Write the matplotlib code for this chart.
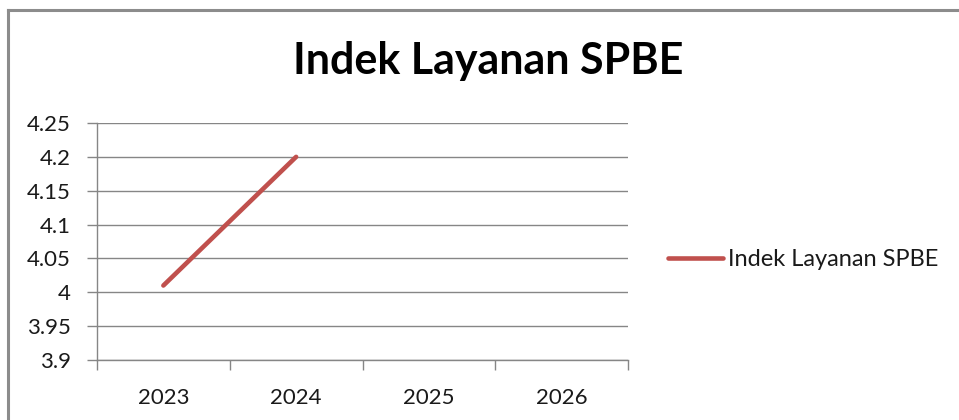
import numpy as np
import matplotlib.pyplot as plt
from matplotlib.lines import Line2D

plt.rcParams['font.family'] = ['Lato', 'DejaVu Sans']

years = ['2023', '2024', '2025', '2026']
indek = [4.01, 4.2]
y_ticks = [3.9, 3.95, 4.0, 4.05, 4.1, 4.15, 4.2, 4.25]
y_labels = ['3.9', '3.95', '4', '4.05', '4.1', '4.15', '4.2', '4.25']

W, H = 959, 420
fig = plt.figure(figsize=(W / 100, H / 100), dpi=100)

# plot area in pixel coords
x0, x1, ytop, ybot = 97, 628, 123, 360
ax = fig.add_axes([x0 / W, (H - ybot) / H, (x1 - x0) / W, (ybot - ytop) / H])

grid_c = '#868686'
txt_c = '#1a1a1a'
ax.plot(np.arange(len(indek)), indek, color='#C0504D', lw=3.3,
        solid_capstyle='round', label='Indek Layanan SPBE')

ax.set_xlim(-0.5, len(years) - 0.5)
ax.set_ylim(3.9, 4.25)
ax.set_yticks(y_ticks)
ax.set_yticklabels(y_labels)
ax.yaxis.grid(True, color=grid_c, lw=1)
ax.set_axisbelow(True)

ax.set_xticks(np.arange(len(years)))
ax.set_xticklabels(years)
ax.set_xticks(np.arange(len(years) + 1) - 0.5, minor=True)
ax.tick_params(axis='x', which='major', length=0, pad=20, labelsize=16, colors=txt_c)
ax.tick_params(axis='x', which='minor', length=7, color=grid_c, width=1)
ax.tick_params(axis='y', length=7, color=grid_c, width=1, pad=12, labelsize=16, labelcolor=txt_c)

for s in ['top', 'right']:
    ax.spines[s].set_visible(False)
for s in ['left', 'bottom']:
    ax.spines[s].set_color(grid_c)
    ax.spines[s].set_linewidth(1)

fig.text(488 / W, 1 - 61 / H, 'Indek Layanan SPBE', ha='center', va='center',
         fontsize=31, fontweight='bold', color='black')

leg = fig.legend(loc='center left', bbox_to_anchor=(647 / W, 1 - 260 / H), frameon=False,
                 fontsize=17, handlelength=2.3, handletextpad=0.25, labelcolor=txt_c)

# outer chart border (top and left visible)
fig.add_artist(Line2D([8 / W, 8 / W], [0, 1 - 10 / H], color='#8c8c8c', lw=2.2))
fig.add_artist(Line2D([8 / W, 1], [1 - 10 / H, 1 - 10 / H], color='#8c8c8c', lw=2.2))

fig.savefig('out.png', dpi=100)
